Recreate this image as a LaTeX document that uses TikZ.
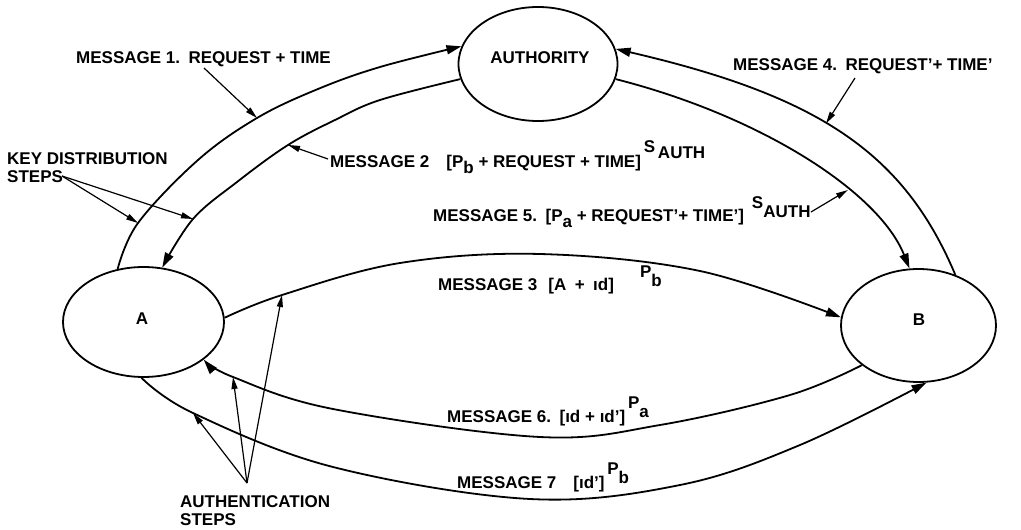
\documentclass[tikz,border=0pt]{standalone}
\usepackage{fontspec}
\setmainfont{Liberation Sans}
\usetikzlibrary{arrows.meta,shapes.geometric}
\begin{document}
\begin{tikzpicture}[x=1pt,y=-1pt,
  font=\fontsize{17}{18}\selectfont\bfseries,
  party/.style={draw,ellipse,line width=1.8pt,inner sep=0pt},
  msg/.style={line width=1.8pt,-{Triangle[length=15pt,width=9pt]}},
  lead/.style={line width=1.2pt,-{Triangle[length=12pt,width=6pt]}},
  lbl/.style={anchor=base west,inner sep=0pt},
  blk/.style={anchor=north west,inner sep=0pt,align=left}]
\useasboundingbox (0,0) rectangle (1021,530);

% parties
\node[party,minimum width=159pt,minimum height=114pt] (auth) at (538,64) {};
\node[inner sep=0pt] (authtxt) at (540,58) {AUTHORITY};
\node[party,minimum width=161pt,minimum height=110pt] (A) at (143.5,322) {};
\node[inner sep=0pt] (Atxt) at (142,319) {A};
\node[party,minimum width=155pt,minimum height=113pt] (B) at (918.5,325.5) {};
\node[inner sep=0pt] (Btxt) at (919,320) {B};

% points on the connectors
\coordinate (k1) at (138,223);
\coordinate (k2) at (193,219);
\coordinate (m1a) at (257,118);
\coordinate (m2a) at (288,145);
\coordinate (au3) at (282,295);
\coordinate (au6) at (233,377);
\coordinate (au7) at (193,413);

% messages
\draw[msg] plot[smooth,tension=0.6] coordinates {(A.116) (k1) (198,160) (m1a) (318,89) (380,67) (auth.167)};
\draw[msg] plot[smooth,tension=0.6] coordinates {(auth.191) (380,100) (335,120) (m2a) (237,182) (k2) (A.71)};
\draw[msg] plot[smooth,tension=0.6] coordinates {(A.3) (au3) (400,263) (540,254) (700,271) (B.174)};
\draw[msg] (B.54) .. controls (904,153) and (819,96) .. coordinate[pos=0.55] (m4a) (auth.11);
\draw[msg] (auth.-11) .. controls (761,116) and (879,192) .. coordinate[pos=0.65] (m5a) (B.99);
\draw[msg] plot[smooth,tension=0.6] coordinates {(B.215) (790,395) (660,425) (540,437) (333,409) (au6) (A.-32)};
\draw[msg] plot[smooth,tension=0.6] coordinates {(A.-92) (au7) (333,467) (530,499) (680,485) (800,445) (B.-82)};

% message labels
\node[lbl] (m1t) at (76,63) {MESSAGE 1.\enspace REQUEST + TIME};
\node[lbl] (m2t) at (330,167) {MESSAGE 2\quad[P\raisebox{-6pt}{b} + REQUEST + TIME]\raisebox{15pt}{\,S}\raisebox{9pt}{\,AUTH}};
\node[lbl] (m3t) at (438,290) {MESSAGE 3\hspace{11pt}[A\enspace+\enspace ıd]\hspace{26pt}\raisebox{13pt}{P}\raisebox{4pt}{b}};
\node[lbl] (m4t) at (733,70) {MESSAGE 4.\enspace REQUEST’+ TIME’};
\node[lbl] (m5t) at (433,221) {MESSAGE 5.\enspace[P\raisebox{-6pt}{a} + REQUEST’+ TIME’]\hspace{8pt}\raisebox{13pt}{S}\raisebox{4pt}{AUTH}};
\node[lbl] (m6t) at (447,422) {MESSAGE 6.\enspace[ıd + ıd’]\,\raisebox{14pt}{P}\raisebox{5pt}{a}};
\node[lbl] (m7t) at (457,488) {MESSAGE 7\quad[ıd’]\,\raisebox{14pt}{P}\raisebox{5pt}{b}};

\coordinate (m1s) at (204,68);
\coordinate (m2s) at (328,159);
\coordinate (m4s) at (855,78);
\coordinate (m5s) at (811,212);
\draw[lead] (m1s) -- (m1a);
\draw[lead] (m2s) -- (m2a);
\draw[lead] (m4s) -- (m4a);
\draw[lead] (m5s) -- (m5a);

% step groups
\node[blk] (kd) at (7,152.5) {KEY DISTRIBUTION\\STEPS};
\coordinate (kds) at (62,176);
\draw[lead] (kds) -- (k1);
\draw[lead] (kds) -- (k2);

\node[blk] (as) at (180,495) {AUTHENTICATION\\STEPS};
\coordinate (aus) at (247,483);
\draw[lead] (aus) -- (au7);
\draw[lead] (aus) -- (au6);
\draw[lead] (aus) -- (au3);
\end{tikzpicture}
\end{document}
